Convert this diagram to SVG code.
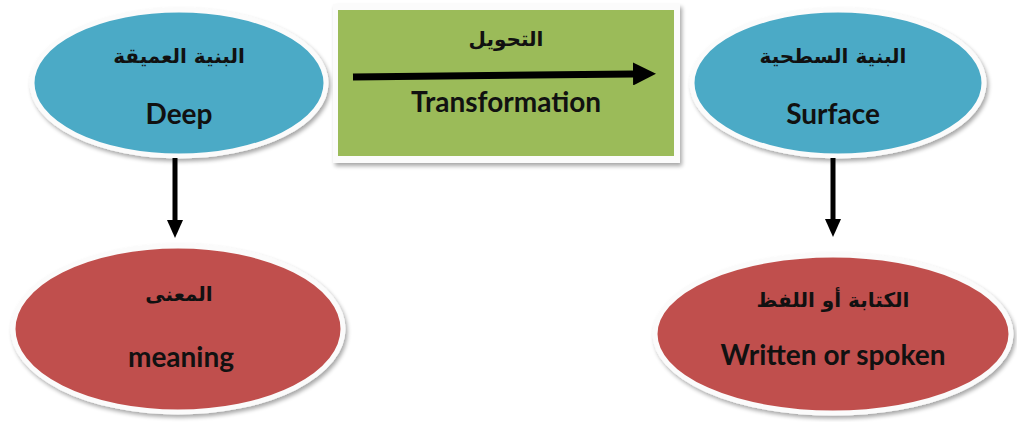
<svg xmlns="http://www.w3.org/2000/svg" width="1017" height="422" viewBox="0 0 1017 422">
<style>
.blue{fill:#4BAAC6;stroke:#fbfbfb;stroke-width:5;filter:url(#sh)}
.red{fill:#C0504D;stroke:#fbfbfb;stroke-width:5;filter:url(#sh)}
.en{font-family:Lato,"Open Sans",sans-serif;font-weight:bold;font-size:28px;fill:#111;text-anchor:middle}
.ar{font-family:"DejaVu Sans","Noto Sans",sans-serif;font-weight:bold;font-size:20px;fill:#111;text-anchor:middle}
.conn{stroke:#000;stroke-width:5;fill:none}
</style>
<defs>
<filter id="sh" x="-10%" y="-10%" width="125%" height="130%">
<feGaussianBlur in="SourceAlpha" stdDeviation="2"/>
<feOffset dx="2" dy="3" result="b"/>
<feComponentTransfer><feFuncA type="linear" slope="0.35"/></feComponentTransfer>
<feMerge><feMergeNode/><feMergeNode in="SourceGraphic"/></feMerge>
</filter>
<marker id="ah" markerWidth="18" markerHeight="16" refX="0" refY="8" orient="auto" markerUnits="userSpaceOnUse">
<path d="M0,0 L18,8 L0,16 z" fill="#000"/>
</marker>
<marker id="ahb" markerWidth="23" markerHeight="23" refX="0" refY="11.5" orient="auto" markerUnits="userSpaceOnUse">
<path d="M0,0 L23,11.5 L0,23 z" fill="#000"/>
</marker>
</defs>
<rect width="1017" height="422" fill="#fff"/>
<g id="deep">
<ellipse class="blue" cx="179" cy="83" rx="147" ry="73"/>
<text class="ar" x="179" y="63">البنية العميقة</text>
<text class="en" x="179" y="124">Deep</text>
</g>
<g id="transformation">
<rect x="333" y="4" width="347" height="159" fill="#fbfbfb" filter="url(#sh)"/>
<rect x="338" y="10" width="336" height="146" fill="#9BBB59"/>
<text class="ar" x="506" y="46">التحويل</text>
<text class="en" x="506" y="112">Transformation</text>
</g>
<g id="surface">
<ellipse class="blue" cx="838" cy="83" rx="146" ry="73"/>
<text class="ar" x="833" y="63">البنية السطحية</text>
<text class="en" x="833" y="124">Surface</text>
</g>
<g id="meaning">
<ellipse class="red" cx="178" cy="329" rx="165" ry="83"/>
<text class="ar" x="179" y="301">المعنى</text>
<text class="en" x="181" y="367">meaning</text>
</g>
<g id="written">
<ellipse class="red" cx="833" cy="334" rx="178" ry="79"/>
<text class="ar" x="833" y="307">الكتابة أو اللفظ</text>
<text class="en" x="833" y="365">Written or spoken</text>
</g>
<g id="connectors">
<line x1="353" y1="77" x2="633" y2="74" stroke="#000" stroke-width="7" marker-end="url(#ahb)"/>
<line class="conn" x1="175" y1="158" x2="175" y2="220" marker-end="url(#ah)"/>
<line class="conn" x1="833" y1="158" x2="833" y2="219" marker-end="url(#ah)"/>
</g>
</svg>
